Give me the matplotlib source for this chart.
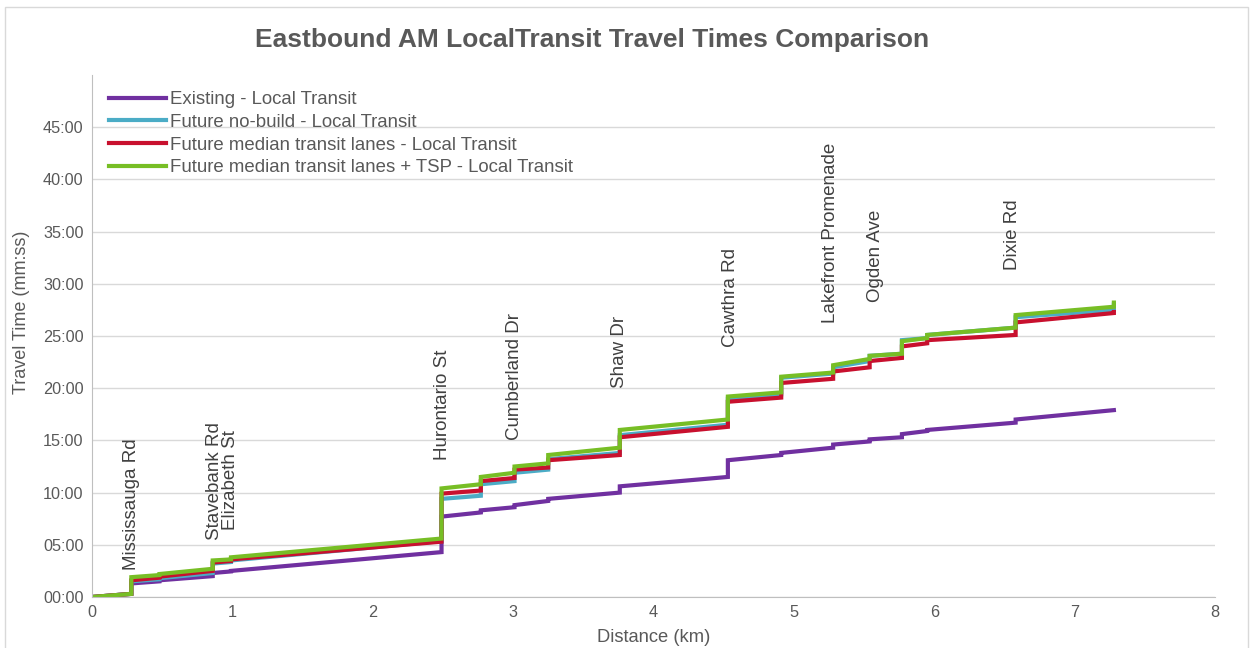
import numpy as np
import matplotlib
matplotlib.use("Agg")
import matplotlib.pyplot as plt
from matplotlib.patches import Rectangle
from matplotlib.ticker import FuncFormatter, MultipleLocator

plt.rcParams['font.family'] = ['Liberation Sans', 'DejaVu Sans']

# stop positions along the route (km)
stop_km = [0, 0.28, 0.48, 0.86, 0.99, 2.49, 2.77, 3.01, 3.25, 3.76,
           4.53, 4.91, 5.28, 5.54, 5.77, 5.95, 6.58, 7.28]

# travel time (minutes) on arrival / departure at each stop
existing_arr = [0, 0.3, 1.5, 2.0, 2.45, 4.3, 8.1, 8.6, 9.2, 10.0,
                11.5, 13.6, 14.3, 14.9, 15.3, 15.9, 16.7, 17.9]
existing_dep = [0, 1.3, 1.6, 2.3, 2.5, 7.7, 8.3, 8.8, 9.4, 10.6,
                13.1, 13.8, 14.6, 15.1, 15.6, 16.0, 17.0, 17.9]

nobuild_arr = [0, 0.3, 1.7, 2.3, 3.35, 5.35, 9.7, 11.1, 12.2, 13.8,
               16.5, 19.4, 21.4, 22.6, 23.3, 24.8, 25.8, 27.5]
nobuild_dep = [0, 1.5, 1.8, 3.2, 3.5, 9.4, 10.8, 11.9, 13.2, 15.5,
               19.0, 21.0, 22.0, 23.1, 24.6, 25.1, 26.8, 28.0]

median_arr = [0, 0.3, 1.85, 2.5, 3.45, 5.3, 10.2, 11.4, 12.4, 13.6,
              16.3, 19.1, 20.9, 22.0, 22.9, 24.3, 25.1, 27.2]
median_dep = [0, 1.6, 1.95, 3.3, 3.6, 9.9, 11.1, 12.2, 13.1, 15.3,
              18.7, 20.5, 21.6, 22.6, 24.0, 24.6, 26.3, 27.3]

tsp_arr = [0, 0.3, 2.1, 2.7, 3.6, 5.6, 10.8, 11.9, 12.8, 14.3,
           17.0, 19.6, 21.5, 22.8, 23.3, 24.8, 25.8, 27.8]
tsp_dep = [0, 1.9, 2.2, 3.5, 3.8, 10.4, 11.5, 12.5, 13.6, 16.0,
           19.2, 21.1, 22.2, 23.1, 24.5, 25.1, 27.0, 28.2]

series_names = ["Existing - Local Transit",
                "Future no-build - Local Transit",
                "Future median transit lanes - Local Transit",
                "Future median transit lanes + TSP - Local Transit"]
colors = ["#7030A0", "#4BACC6", "#C8102E", "#77BE25"]

# street labels
street_names = ["Mississauga Rd", "Stavebank Rd", "Elizabeth St", "Hurontario St",
                "Cumberland Dr", "Shaw Dr", "Cawthra Rd", "Lakefront Promenade",
                "Ogden Ave", "Dixie Rd"]
street_km = [0.28, 0.87, 0.99, 2.50, 3.01, 3.76, 4.55, 5.26, 5.58, 6.56]
street_label_min = [2.6, 5.5, 6.4, 13.1, 15.0, 20.0, 23.9, 26.2, 28.3, 31.3]

TEXT = "#595959"


def steps(arr, dep):
    x = np.repeat(stop_km, 2)
    y = np.column_stack([arr, dep]).ravel()
    return x, y


fig = plt.figure(figsize=(12.52, 6.48), dpi=100)
ax = fig.add_axes([0.0735, 0.0787, 0.8969, 0.8056])

data = [(existing_arr, existing_dep), (nobuild_arr, nobuild_dep),
        (median_arr, median_dep), (tsp_arr, tsp_dep)]
for (arr, dep), name, c in zip(data, series_names, colors):
    x, y = steps(arr, dep)
    ax.plot(x, y, color=c, lw=3, label=name, solid_joinstyle='miter')

for name, km, m in zip(street_names, street_km, street_label_min):
    ax.text(km, m, name, rotation=90, ha='center', va='bottom',
            fontsize=13.5, color="#404040")

ax.set_xlim(0, 8)
ax.set_ylim(0, 50)
ax.set_yticks(np.arange(0, 46, 5))
ax.yaxis.set_major_formatter(FuncFormatter(lambda v, p: f"{int(v):02d}:00"))
ax.xaxis.set_major_locator(MultipleLocator(1))
ax.grid(axis='y', color="#D9D9D9", lw=1)
ax.set_axisbelow(True)
for s in ['top', 'right']:
    ax.spines[s].set_visible(False)
for s in ['left', 'bottom']:
    ax.spines[s].set_color("#BFBFBF")
ax.tick_params(length=0, labelsize=11.7, colors=TEXT, pad=6)
ax.set_xlabel("Distance (km)", fontsize=13.2, color=TEXT, labelpad=6)

# y axis title sits a little above the plot centre, as in the original
fig.text(22 / 1252, 1 - 312 / 648, "Travel Time (mm:ss)", rotation=90,
         ha='center', va='center', fontsize=13, color=TEXT)

leg = ax.legend(loc='upper left', bbox_to_anchor=(0.005, 0.99), frameon=False,
                fontsize=13.4, handlelength=3.05, handletextpad=0.25,
                labelspacing=0.3, borderaxespad=0.2)
for t in leg.get_texts():
    t.set_color(TEXT)

fig.text(0.473, 0.938, "Eastbound AM LocalTransit Travel Times Comparison",
         ha='center', va='center', fontsize=19, fontweight='bold', color=TEXT)

fig.patches.append(Rectangle((0.004, -0.01), 0.993, 0.999, transform=fig.transFigure,
                             fill=False, edgecolor="#D9D9D9", lw=1))

fig.savefig("out.png", dpi=100)
